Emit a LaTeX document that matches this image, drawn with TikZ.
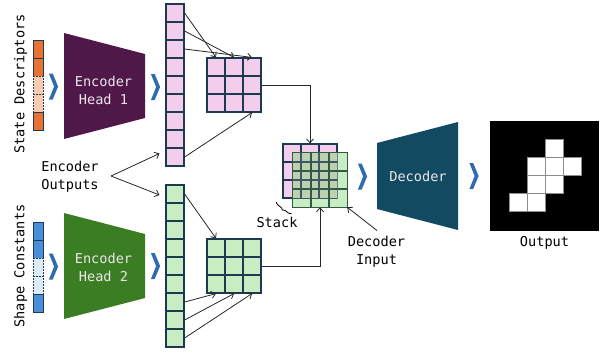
\documentclass[tikz,border=0pt]{standalone}
\usepackage{fontspec}
\setmonofont{DejaVu Sans Mono}
\usetikzlibrary{arrows.meta,decorations.pathreplacing,calc}

\definecolor{cellline}{HTML}{1C3A50}
\definecolor{pinkcell}{HTML}{F2CEEC}
\definecolor{greencell}{HTML}{C8EDC2}
\definecolor{mixcell}{HTML}{BDD0B0}
\definecolor{greenline}{HTML}{2F5A44}
\definecolor{sdorange}{HTML}{E97132}
\definecolor{sdpeach}{HTML}{F8CBAD}
\definecolor{scblue}{HTML}{4A8DD8}
\definecolor{sclight}{HTML}{DDEBF7}
\definecolor{chevblue}{HTML}{2E6BB0}
\definecolor{enc1}{HTML}{4F1848}
\definecolor{enc2}{HTML}{3B7D23}
\definecolor{decod}{HTML}{124A62}
\definecolor{lighttext}{HTML}{ECE6EC}

\tikzset{
  txt/.style={font=\ttfamily\fontsize{13.6}{18}\selectfont, inner sep=0pt, align=center},
  cell/.style={draw=cellline, line width=1.2pt, minimum size=18pt, inner sep=0pt},
  pinkc/.style={cell, fill=pinkcell},
  greenc/.style={cell, fill=greencell},
  greenfill/.style={fill=greencell, minimum size=18pt, inner sep=0pt},
  barsolid/.style={draw=cellline, line width=0.9pt, minimum width=9.5pt, minimum height=18pt, inner sep=0pt},
  bardash/.style={barsolid, dash pattern=on 1.5pt off 1.5pt},
  link/.style={draw=black!85, line width=0.8pt, -{Straight Barb[length=4pt,width=7pt]}},
  outcell/.style={fill=white, draw=black!45, line width=0.8pt, minimum size=18pt, inner sep=0pt},
  chev/.pic={\fill[chevblue] (-4.6,-13) -- (-0.8,-13) -- (4.6,0) -- (-0.8,13) -- (-4.6,13) -- (0.6,0) -- cycle;}
}

\begin{document}
\begin{tikzpicture}[x=1pt, y=-1pt]
\useasboundingbox (0,0) rectangle (605,354);

% input bars
\node[barsolid, fill=sdorange] (sd0) at (38.5,49) {};
\node[barsolid, fill=sdorange] (sd1) at (38.5,67) {};
\node[bardash, fill=sdpeach] (sd2) at (38.5,85) {};
\node[bardash, fill=sdpeach] (sd3) at (38.5,103) {};
\node[barsolid, fill=sdorange] (sd4) at (38.5,121) {};

\node[barsolid, fill=scblue] (sc0) at (38.5,231) {};
\node[barsolid, fill=scblue] (sc1) at (38.5,249) {};
\node[bardash, fill=sclight] (sc2) at (38.5,267) {};
\node[bardash, fill=sclight] (sc3) at (38.5,285) {};
\node[barsolid, fill=scblue] (sc4) at (38.5,303) {};

\node[txt, rotate=90] (sdlabel) at (20.5,84) {State Descriptors};
\node[txt, rotate=90] (sclabel) at (20.5,266) {Shape Constants};

% encoder heads
\fill[enc1] (64,33) -- (145,54) -- (145,118) -- (64,139) -- cycle;
\node[txt, text=lighttext] (eh1) at (103.5,90) {Encoder\\Head 1};
\fill[enc2] (64,213) -- (145,234) -- (145,298) -- (64,319) -- cycle;
\node[txt, text=lighttext] (eh2) at (103.5,267) {Encoder\\Head 2};

\pic at (53.5,86.5) {chev};
\pic at (155.5,87) {chev};
\pic at (53.5,266.5) {chev};
\pic at (155.5,266) {chev};

% encoder output columns
\foreach \i in {0,...,8}{
  \node[pinkc] (pc\i) at (175,13+18*\i) {};
  \node[greenc] (gc\i) at (175,194+18*\i) {};
}

% reshaped 3x3 grids
\foreach \r in {0,1,2}{
  \foreach \c in {0,1,2}{
    \node[pinkc] (pg\r\c) at (216+18*\c,67+18*\r) {};
    \node[greenc] (gg\r\c) at (216+18*\c,248+18*\r) {};
  }
}

% stacked decoder input: pink layer behind, green layer in front
\foreach \r in {0,1,2}{
  \foreach \c in {0,1,2}{
    \node[pinkc] (sp\r\c) at (292+18*\c,153+18*\r) {};
  }
}
\foreach \r in {0,1,2}{
  \foreach \c in {0,1,2}{
    \node[greenfill] (sg\r\c) at (302+18*\c,162+18*\r) {};
  }
}
\fill[mixcell] (sg00.north west) rectangle (sp22.south east);
\begin{scope}
  \clip (sg00.north west) rectangle (sp22.south east);
  \foreach \r in {0,1,2}{
    \foreach \c in {0,1,2}{
      \draw[draw=cellline!85, line width=1.2pt] (sp\r\c.south west) rectangle (sp\r\c.north east);
    }
  }
\end{scope}
\foreach \r in {0,1,2}{
  \foreach \c in {0,1,2}{
    \draw[draw=greenline, line width=1.2pt] (sg\r\c.south west) rectangle (sg\r\c.north east);
  }
}

% column to grid links
\draw[link] (pc0.east) -- (pg00.north);
\draw[link] (pc1.east) -- (pg01.north);
\draw[link] (pc2.east) -- (pg02.north);
\draw[link] (pc8.east) -- (pg22.south);
\draw[link] (gc0.east) -- (gg00.north);
\draw[link] (gc6.east) -- (gg20.south);
\draw[link] (gc7.east) -- (gg21.south);
\draw[link] (gc8.east) -- (gg22.south);

\draw[link] (pg12.east) -| (sp01.north);
\draw[link] (gg12.east) -| (sg21.south);

% encoder outputs label
\node[txt] (eo) at (70,176.5) {Encoder\\Outputs};
\coordinate (eoapex) at (111,176);
\coordinate (eotop) at (159.5,153.5);
\coordinate (eobot) at (159.5,195);
\draw[link] (eoapex) -- (eotop);
\draw[link] (eoapex) -- (eobot);

% stack label
\node[txt] (stk) at (277,222) {Stack};
\coordinate (brA) at (291.5,213.5);
\coordinate (brB) at (276.5,202);
\draw[line width=0.8pt, decorate, decoration={brace, amplitude=3pt}] (brA) -- (brB);

% decoder input label
\node[txt] (dinp) at (376.5,251.5) {Decoder\\Input};
\coordinate (dinpfrom) at (377,230.5);
\draw[link] (dinpfrom) -- (sg22.south east);

% decoder
\pic at (362.5,176.5) {chev};
\fill[decod] (377,143) -- (458,122) -- (458,230) -- (377,209) -- cycle;
\node[txt, text=lighttext] (dec) at (418,176) {Decoder};
\pic at (474,176) {chev};

% output image
\fill[black] (490,121) rectangle (599,230.5);
\node[outcell] (o1) at (554,148) {};
\node[outcell] (o2) at (536,166) {};
\node[outcell] (o3) at (554,166) {};
\node[outcell] (o4) at (572,166) {};
\node[outcell] (o5) at (536,184) {};
\node[outcell] (o6) at (554,184) {};
\node[outcell] (o7) at (518,202) {};
\node[outcell] (o8) at (536,202) {};
\node[txt] (outlabel) at (544.5,243) {Output};

\end{tikzpicture}
\end{document}
